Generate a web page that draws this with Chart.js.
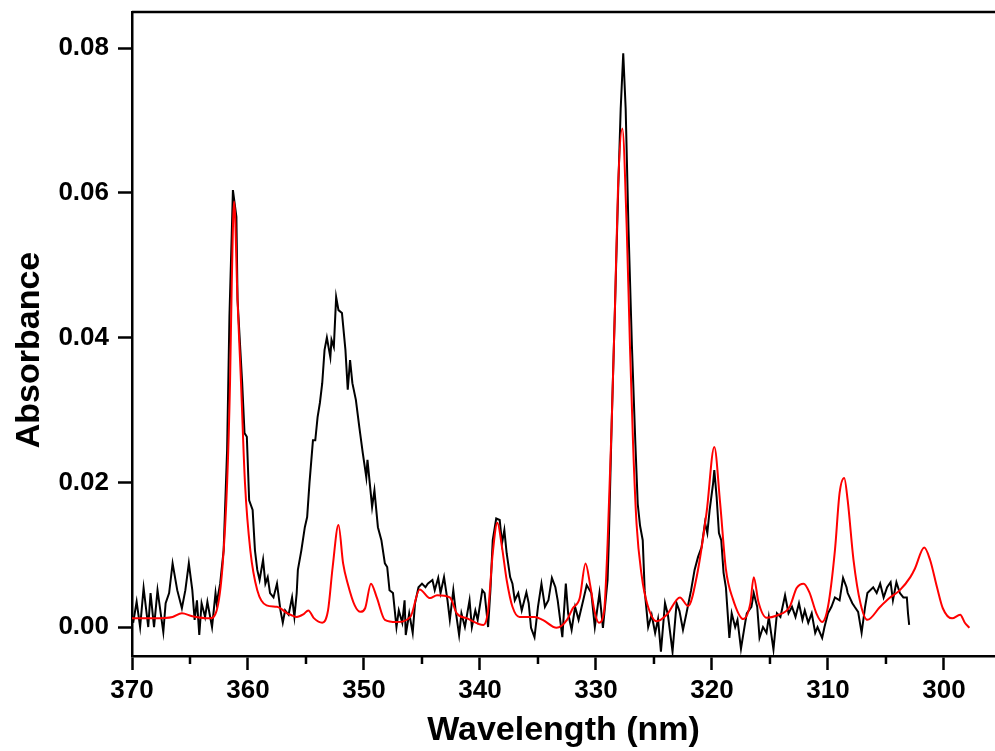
<!DOCTYPE html>
<html>
<head>
<meta charset="utf-8">
<script src="https://cdn.jsdelivr.net/npm/chart.js@4.4.1/dist/chart.umd.min.js"></script>
<style>
  body { margin: 0; background: #fff; }
  #wrap { width: 995px; height: 751px; }
</style>
</head>
<body>
<div id="wrap"><canvas id="chart"></canvas></div>
<script>
// measured spectrum (black) - wavelength nm / absorbance
const blackWl = [369.9,369.6,369.3,369.0,368.6,368.4,368.1,367.8,367.3,367.1,366.8,366.5,366.1,365.7,365.4,365.1,364.8,364.6,364.4,364.2,364.0,363.7,363.5,363.1,362.8,362.7,362.4,362.1,361.8,361.6,361.4,361.3,361.0,360.9,360.5,360.3,360.1,359.9,359.6,359.4,359.2,359.0,358.7,358.5,358.3,358.1,357.8,357.5,357.2,357.0,356.8,356.5,356.2,356.0,355.8,355.7,355.4,355.1,354.9,354.7,354.4,354.2,354.0,353.8,353.6,353.4,353.2,352.9,352.8,352.6,352.4,352.2,351.9,351.6,351.4,351.2,351.0,350.7,350.4,350.1,349.8,349.7,349.3,349.1,348.8,348.5,348.2,348.0,347.8,347.5,347.2,347.0,346.7,346.5,346.4,346.1,345.8,345.6,345.3,345.0,344.7,344.5,344.1,343.9,343.6,343.4,343.1,342.8,342.6,342.3,342.1,341.8,341.6,341.3,340.9,340.7,340.4,340.2,339.8,339.6,339.3,339.1,338.9,338.6,338.3,338.1,337.9,337.7,337.4,337.2,337.0,336.7,336.4,336.0,335.8,335.6,335.3,335.0,334.7,334.4,334.1,333.8,333.5,333.3,332.9,332.6,332.4,332.1,331.8,331.5,331.1,330.8,330.4,330.1,329.7,329.4,329.0,328.9,328.65,328.36,328.08,327.87,327.65,327.44,327.2,326.9,326.6,326.4,326.2,325.97,325.8,325.5,325.2,324.9,324.65,324.4,324.05,323.8,323.4,323.05,322.8,322.5,322.2,321.8,321.5,321.2,320.9,320.6,320.4,320.2,319.9,319.8,319.6,319.4,319.2,319.0,318.8,318.5,318.3,318.0,317.8,317.5,317.2,317.0,316.6,316.4,316.1,315.9,315.6,315.3,315.1,314.7,314.4,314.1,313.7,313.4,313.1,312.8,312.5,312.2,312.0,311.7,311.4,311.1,310.9,310.5,310.3,310.0,309.7,309.4,309.0,308.7,308.4,308.3,307.9,307.7,307.4,307.1,306.8,306.6,306.1,305.8,305.5,305.2,304.9,304.6,304.4,304.1,303.8,303.5,303.2,303.1,303.0];
const blackAbs = [0.0006,0.0035,0.0000,0.0054,0.0000,0.0047,0.0000,0.0051,-0.0007,0.0033,0.0047,0.0088,0.0051,0.0026,0.0051,0.0088,0.0051,0.0010,0.0037,-0.0011,0.0033,0.0014,0.0035,0.0000,0.0047,0.0033,0.0060,0.0106,0.0245,0.0429,0.0544,0.0604,0.0567,0.0452,0.0337,0.0268,0.0263,0.0175,0.0162,0.0106,0.0079,0.0065,0.0093,0.0060,0.0069,0.0047,0.0041,0.0060,0.0023,0.0006,0.0023,0.0017,0.0041,0.0014,0.0047,0.0079,0.0106,0.0138,0.0152,0.0199,0.0258,0.0258,0.0290,0.0310,0.0337,0.0383,0.0400,0.0373,0.0397,0.0387,0.0456,0.0438,0.0434,0.0383,0.0328,0.0369,0.0337,0.0314,0.0276,0.0240,0.0207,0.0231,0.0166,0.0189,0.0138,0.0120,0.0088,0.0083,0.0051,0.0047,0.0000,0.0023,0.0006,0.0037,-0.0011,0.0019,-0.0008,0.0033,0.0055,0.0060,0.0055,0.0060,0.0065,0.0051,0.0068,0.0047,0.0069,0.0037,0.0010,0.0051,0.0023,-0.0011,0.0019,0.0000,0.0037,0.0000,0.0023,0.0010,0.0051,0.0047,0.0000,0.0051,0.0120,0.0150,0.0148,0.0116,0.0134,0.0102,0.0069,0.0060,0.0037,0.0047,0.0023,0.0048,0.0033,-0.0001,-0.0014,0.0028,0.0060,0.0028,0.0037,0.0068,0.0055,0.0037,-0.0014,0.0060,0.0019,-0.0004,0.0028,0.0010,0.0037,0.0058,0.0047,0.0000,0.0047,-0.0001,0.0065,0.0115,0.0280,0.0443,0.0607,0.0716,0.0793,0.0716,0.0552,0.0388,0.0252,0.0170,0.0140,0.0120,0.0050,0.0000,0.0017,-0.0008,0.0011,-0.0034,0.0033,0.0017,-0.0034,0.0033,0.0022,-0.0004,0.0019,0.0051,0.0079,0.0097,0.0110,0.0144,0.0130,0.0162,0.0199,0.0217,0.0180,0.0130,0.0120,0.0075,0.0055,-0.0015,0.0019,0.0000,0.0010,-0.0030,0.0000,0.0019,0.0028,0.0047,0.0028,-0.0015,0.0000,-0.0008,0.0014,-0.0031,0.0019,0.0014,0.0044,0.0019,0.0028,0.0014,0.0033,0.0010,0.0023,0.0006,0.0019,-0.0008,0.0000,-0.0015,0.0000,0.0019,0.0028,0.0041,0.0037,0.0068,0.0055,0.0047,0.0033,0.0028,0.0021,-0.0008,0.0028,0.0047,0.0055,0.0047,0.0060,0.0041,0.0055,0.0062,0.0037,0.0062,0.0047,0.0041,0.0041,0.0019,0.0003];

// calculated spectrum (red)
const redWl = [370.0,368.0,366.5,365.7,364.8,363.3,362.7,362.2,361.8,361.55,361.4,361.2,361.1,360.95,360.6,360.26,359.8,359.2,358.4,357.5,356.6,355.8,355.2,354.8,354.3,353.6,353.1,352.7,352.2,351.8,351.4,350.8,350.3,349.9,349.4,348.9,348.2,347.2,346.0,345.2,344.3,343.7,342.6,342.0,341.1,339.7,339.3,338.9,338.5,338.1,337.7,337.2,336.6,335.3,334.6,333.4,332.5,332.0,331.4,330.9,330.5,330.1,329.75,329.3,329.0,328.65,328.36,328.1,327.73,327.35,327.07,326.8,326.5,326.06,325.6,324.77,323.9,322.76,322.05,321.3,320.46,319.8,319.3,318.8,318.2,317.3,316.7,316.4,316.0,315.3,314.4,313.3,312.7,312.1,311.6,311.0,310.5,310.0,309.4,309.0,308.6,308.3,307.8,307.2,306.6,305.5,304.7,303.8,302.9,302.5,301.7,301.2,300.6,300.1,299.3,298.6,298.2,297.8];
const redAbs = [0.0012,0.0012,0.0014,0.0019,0.0015,0.0012,0.0023,0.0083,0.0199,0.0337,0.0475,0.0588,0.0565,0.0475,0.0337,0.0199,0.0106,0.0051,0.0030,0.0028,0.0019,0.0014,0.0018,0.0023,0.0012,0.0006,0.0023,0.0083,0.0141,0.0088,0.0060,0.0030,0.0021,0.0026,0.0060,0.0041,0.0010,0.0007,0.0014,0.0052,0.0040,0.0044,0.0041,0.0019,0.0012,0.0003,0.0023,0.0102,0.0144,0.0110,0.0065,0.0028,0.0014,0.0014,0.0010,-0.0001,0.0010,0.0026,0.0040,0.0088,0.0058,0.0020,0.0006,0.0022,0.0115,0.0279,0.0443,0.0607,0.0689,0.0552,0.0388,0.0252,0.0142,0.0071,0.0033,0.0008,0.0017,0.0041,0.0029,0.0071,0.0159,0.0249,0.0172,0.0080,0.0039,0.0011,0.0032,0.0069,0.0035,0.0013,0.0016,0.0028,0.0054,0.0060,0.0048,0.0019,0.0007,0.0028,0.0106,0.0185,0.0206,0.0175,0.0093,0.0033,0.0010,0.0028,0.0040,0.0051,0.0069,0.0081,0.0110,0.0093,0.0055,0.0026,0.0012,0.0017,0.0006,-0.0001];

const xTicks = [370, 360, 350, 340, 330, 320, 310, 300];
const xMinor = [365, 355, 345, 335, 325, 315, 305];
const yTicks = [0, 0.02, 0.04, 0.06, 0.08];

const toPts = (xs, ys) => xs.map((v, i) => ({x: v, y: ys[i]}));

const fam = '"Liberation Sans", Arial, sans-serif';
const tickFont = {family: fam, size: 26, weight: 'bold'};
const titleFont = {family: fam, size: 34, weight: 'bold'};

// top frame line, minor x ticks, and the y title (placed like the original, a bit below centre)
const frame = {
  id: 'frame',
  afterDraw(chart) {
    const {ctx, chartArea, scales} = chart;
    ctx.save();
    ctx.strokeStyle = '#000';
    ctx.lineWidth = 2.5;
    ctx.beginPath();
    ctx.moveTo(chartArea.left, chartArea.top);
    ctx.lineTo(chartArea.right, chartArea.top);
    xMinor.forEach(v => {
      const px = scales.x.getPixelForValue(v);
      ctx.moveTo(px, chartArea.bottom);
      ctx.lineTo(px, chartArea.bottom + 8);
    });
    ctx.stroke();

    ctx.translate(30, 350);
    ctx.rotate(-Math.PI / 2);
    ctx.font = 'bold 34px ' + fam;
    ctx.fillStyle = '#000';
    ctx.textAlign = 'center';
    ctx.textBaseline = 'middle';
    ctx.fillText('Absorbance', 0, 0);
    ctx.restore();
  }
};

new Chart(document.getElementById('chart'), {
  type: 'scatter',
  data: {
    datasets: [
      {
        data: toPts(blackWl, blackAbs),
        showLine: true,
        borderColor: '#000',
        borderWidth: 2,
        pointRadius: 0,
        order: 2
      },
      {
        data: toPts(redWl, redAbs),
        showLine: true,
        borderColor: '#ff0000',
        borderWidth: 2,
        pointRadius: 0,
        cubicInterpolationMode: 'monotone',
        order: 1
      }
    ]
  },
  options: {
    responsive: true,
    maintainAspectRatio: false,
    animation: false,
    layout: {padding: {top: 12, right: 0, left: 0, bottom: 0}},
    plugins: {legend: {display: false}, tooltip: {enabled: false}},
    scales: {
      x: {
        type: 'linear',
        reverse: true,
        min: 295.6,
        max: 370,
        afterBuildTicks: s => { s.ticks = xTicks.map(v => ({value: v})); },
        afterFit: s => { s.height = 95; s.paddingLeft = 0; s.paddingRight = 0; },
        border: {color: '#000', width: 2.5},
        grid: {drawOnChartArea: false, color: '#000', tickLength: 14, tickWidth: 2.5},
        ticks: {color: '#000', font: tickFont, padding: 5, maxRotation: 0},
        title: {display: true, text: 'Wavelength (nm)', color: '#000', font: titleFont, padding: {top: 0, bottom: 0}}
      },
      y: {
        min: -0.004,
        max: 0.085,
        afterBuildTicks: s => { s.ticks = yTicks.map(v => ({value: v})); },
        afterFit: s => { s.width = 132; s.paddingTop = 0; s.paddingBottom = 0; },
        border: {color: '#000', width: 2.5},
        grid: {drawOnChartArea: false, color: '#000', tickLength: 14, tickWidth: 2.5},
        ticks: {color: '#000', font: tickFont, padding: 9, callback: v => v.toFixed(2)},
        title: {display: false}
      }
    }
  },
  plugins: [frame]
});
</script>
</body>
</html>
